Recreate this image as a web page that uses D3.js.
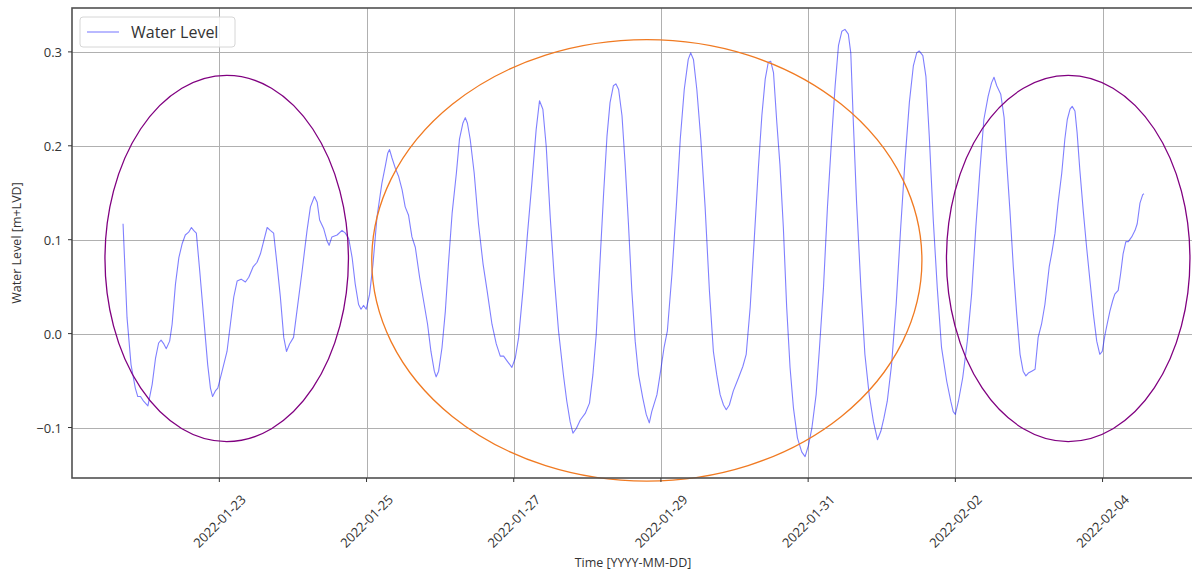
<!DOCTYPE html>
<html>
<head>
<meta charset="utf-8">
<script src="https://cdn.jsdelivr.net/npm/d3@7/dist/d3.min.js"></script>
<style>
  html, body { margin: 0; padding: 0; background: #fff; }
  svg { display: block; font-family: "Open Sans", "Noto Sans", sans-serif; }
</style>
</head>
<body>
<svg id="chart" width="1192" height="574"></svg>
<script>
// Water level record, hourly offsets counted from the series start.
const seriesStart = Date.UTC(2022, 0, 21, 0, 0);
const hoursSinceStart = [
  16.6, 17.9, 19.2, 20.6, 21.4, 22.3, 23.3, 24.7, 26.1, 27.2, 28.2, 29.0, 29.9, 30.7, 31.8, 32.6,
  33.7, 34.8, 35.9, 36.9, 38.0, 38.9, 39.6, 40.5, 41.6, 42.9, 44.2, 45.1, 45.8, 46.7, 47.5, 48.9,
  50.5, 51.6, 52.7, 53.8, 55.1, 56.5, 57.6, 59.0, 60.3, 61.4, 62.5, 63.6, 64.6, 65.7, 66.8, 67.9,
  69.0, 69.9, 70.9, 72.2, 73.3, 75.0, 76.6, 77.7, 79.0, 79.9, 80.7, 82.0, 83.1, 83.8, 84.7, 86.4,
  88.0, 89.1, 90.2, 91.3, 92.3, 93.4, 94.2, 95.0, 95.9, 97.0, 98.1, 99.4, 101.0, 102.1, 102.9, 103.5,
  104.3, 105.4, 106.5, 107.6, 108.6, 109.7, 110.8, 111.9, 113.3, 114.6, 115.9, 117.0, 118.1, 118.7, 119.5, 120.6,
  121.7, 122.7, 123.9, 125.3, 126.3, 127.4, 128.2, 128.9, 129.8, 131.1, 132.5, 134.0, 135.3, 136.9, 138.3, 139.6,
  140.7, 141.8, 143.4, 144.5, 145.6, 147.0, 148.5, 149.9, 151.3, 152.4, 153.5, 154.6, 155.9, 157.2, 158.6, 160.2,
  161.3, 162.4, 163.3, 164.4, 165.7, 167.3, 168.7, 169.8, 170.9, 172.2, 173.3, 174.4, 175.4, 176.5, 177.3, 178.2,
  179.3, 180.3, 181.4, 182.5, 183.6, 184.7, 186.1, 187.2, 188.2, 189.0, 190.7, 191.7, 193.0, 194.1, 195.6, 197.0,
  198.3, 199.6, 200.9, 201.7, 202.6, 203.7, 205.0, 206.4, 207.8, 209.1, 210.2, 211.3, 212.4, 213.3, 214.3, 215.6,
  217.3, 218.7, 219.8, 221.1, 222.4, 223.8, 224.9, 226.0, 227.0, 227.8, 228.7, 229.8, 230.8, 231.9, 233.0, 234.1,
  235.2, 236.5, 237.9, 239.0, 240.1, 241.2, 242.6, 243.7, 245.0, 246.3, 247.7, 248.8, 249.9, 251.0, 252.0, 253.1,
  253.9, 254.7, 255.8, 257.2, 258.5, 259.9, 261.3, 262.6, 263.7, 264.7, 265.8, 267.2, 268.7, 270.2, 271.6, 273.0,
  274.3, 275.4, 276.2, 277.4, 278.4, 279.5, 280.8, 282.1, 283.5, 285.2, 286.5, 287.3, 288.0, 289.0, 290.4, 291.9,
  293.3, 294.7, 296.0, 297.3, 298.7, 299.8, 300.6, 301.5, 302.8, 303.9, 304.7, 305.8, 306.9, 308.0, 309.1, 310.1,
  311.0, 311.8, 312.9, 314.0, 315.0, 316.1, 317.2, 318.6, 319.4, 320.5, 321.5, 322.7, 323.7, 324.5, 325.4, 326.1,
  327.0, 327.7, 328.6, 329.7, 330.8, 331.9, 333.0, 334.1, 335.1, 335.9, 336.8, 337.5, 338.4, 339.3, 340.0, 341.1,
  341.9, 342.7, 343.6, 344.4, 345.5, 346.6, 347.3, 348.2, 349.1, 349.5
];
const waterLevel = [
  0.117, 0.017, -0.033, -0.058, -0.067, -0.067, -0.072, -0.077, -0.054, -0.026, -0.010, -0.007, -0.011, -0.016, -0.008, 0.010,
  0.053, 0.081, 0.096, 0.105, 0.108, 0.113, 0.110, 0.107, 0.067, 0.017, -0.033, -0.058, -0.067, -0.061, -0.058, -0.040,
  -0.019, 0.010, 0.039, 0.056, 0.058, 0.055, 0.060, 0.071, 0.076, 0.085, 0.099, 0.113, 0.110, 0.107, 0.074, 0.039,
  -0.004, -0.019, -0.011, -0.004, 0.024, 0.067, 0.110, 0.135, 0.146, 0.140, 0.121, 0.112, 0.099, 0.094, 0.103, 0.105,
  0.110, 0.107, 0.101, 0.081, 0.053, 0.031, 0.026, 0.030, 0.026, 0.042, 0.074, 0.124, 0.160, 0.178, 0.192, 0.196,
  0.187, 0.176, 0.167, 0.153, 0.135, 0.126, 0.103, 0.092, 0.060, 0.035, 0.010, -0.019, -0.040, -0.046, -0.040, -0.015,
  0.024, 0.074, 0.128, 0.171, 0.207, 0.224, 0.230, 0.224, 0.207, 0.171, 0.117, 0.074, 0.046, 0.010, -0.011, -0.024,
  -0.024, -0.029, -0.036, -0.026, -0.004, 0.046, 0.107, 0.160, 0.217, 0.248, 0.239, 0.199, 0.124, 0.060, 0.003, -0.044,
  -0.072, -0.094, -0.106, -0.101, -0.092, -0.085, -0.074, -0.044, -0.001, 0.081, 0.149, 0.210, 0.246, 0.264, 0.266, 0.260,
  0.232, 0.182, 0.117, 0.046, -0.008, -0.044, -0.069, -0.086, -0.095, -0.083, -0.065, -0.044, -0.015, 0.003, 0.064, 0.135,
  0.207, 0.260, 0.292, 0.299, 0.292, 0.260, 0.207, 0.135, 0.046, -0.019, -0.044, -0.065, -0.076, -0.081, -0.076, -0.061,
  -0.047, -0.035, -0.022, 0.028, 0.099, 0.178, 0.232, 0.271, 0.289, 0.290, 0.278, 0.224, 0.180, 0.114, 0.028, -0.036,
  -0.079, -0.111, -0.126, -0.131, -0.119, -0.101, -0.065, -0.015, 0.049, 0.135, 0.210, 0.264, 0.307, 0.322, 0.324, 0.319,
  0.299, 0.228, 0.139, 0.049, -0.022, -0.065, -0.094, -0.113, -0.104, -0.090, -0.072, -0.033, 0.031, 0.114, 0.185, 0.246,
  0.285, 0.299, 0.301, 0.296, 0.274, 0.210, 0.121, 0.049, -0.015, -0.051, -0.072, -0.083, -0.086, -0.072, -0.047, -0.008,
  0.042, 0.114, 0.174, 0.228, 0.253, 0.267, 0.273, 0.264, 0.255, 0.230, 0.185, 0.131, 0.071, 0.021, -0.022, -0.040,
  -0.045, -0.042, -0.040, -0.038, -0.004, 0.010, 0.031, 0.071, 0.085, 0.107, 0.139, 0.171, 0.207, 0.228, 0.239, 0.242,
  0.237, 0.214, 0.174, 0.131, 0.092, 0.056, 0.021, -0.008, -0.022, -0.019, -0.001, 0.010, 0.024, 0.035, 0.042, 0.046,
  0.064, 0.085, 0.098, 0.098, 0.103, 0.110, 0.117, 0.139, 0.148, 0.149
];

// Axis ticks
const xTickDates = ["2022-01-23", "2022-01-25", "2022-01-27", "2022-01-29", "2022-01-31", "2022-02-02", "2022-02-04"];
const yTickValues = [-0.1, 0.0, 0.1, 0.2, 0.3];

// Highlighted periods: centre (hours from start, level), full width in hours, full height in metres
const highlightCentreHours = [50.4, 187.4, 324.8];
const highlightCentreLevel = [0.08, 0.078, 0.08];
const highlightWidthHours = [79.4, 179.4, 79.4];
const highlightHeight = [0.39, 0.47, 0.39];
const highlightColors = ["#800080", "#f07a22", "#800080"];

const seriesName = "Water Level";
const xLabel = "Time [YYYY-MM-DD]";
const yLabel = "Water Level [m+LVD]";

// ---- layout ----
const svg = d3.select("#chart");
const margin = { left: 72, top: 8 };
const plotW = 1123, plotH = 470;

const data = hoursSinceStart.map((h, i) => ({ t: new Date(seriesStart + h * 3600e3), v: waterLevel[i] }));

// matplotlib-style 5% data margins
const tExt = d3.extent(data, d => +d.t);
const tPad = (tExt[1] - tExt[0]) * 0.05;
const vExt = d3.extent(data, d => d.v);
const vPad = (vExt[1] - vExt[0]) * 0.05;

const x = d3.scaleUtc()
  .domain([new Date(tExt[0] - tPad), new Date(tExt[1] + tPad)])
  .range([margin.left, margin.left + plotW]);
const y = d3.scaleLinear()
  .domain([vExt[0] - vPad, vExt[1] + vPad])
  .range([margin.top + plotH, margin.top]);

const parseDay = d3.utcParse("%Y-%m-%d");
const xTicks = xTickDates.map(parseDay);
const fmtY = v => d3.format(".1f")(v).replace("-", "\u2212");

// grid
const grid = svg.append("g").attr("stroke", "#b0b0b0").attr("stroke-width", 1);
grid.selectAll("line.gx").data(xTicks).join("line")
  .attr("x1", d => Math.round(x(d)) + 0.5).attr("x2", d => Math.round(x(d)) + 0.5)
  .attr("y1", margin.top).attr("y2", margin.top + plotH);
grid.selectAll("line.gy").data(yTickValues).join("line")
  .attr("y1", d => Math.round(y(d)) + 0.5).attr("y2", d => Math.round(y(d)) + 0.5)
  .attr("x1", margin.left).attr("x2", margin.left + plotW);

// series line
const line = d3.line().x(d => x(d.t)).y(d => y(d.v));
svg.append("path")
  .datum(data)
  .attr("d", line)
  .attr("fill", "none")
  .attr("stroke", "blue")
  .attr("stroke-opacity", 0.5)
  .attr("stroke-width", 1.1)
  .attr("stroke-linejoin", "round");

// highlight ellipses
const toTime = h => new Date(seriesStart + h * 3600e3);
svg.append("g").selectAll("ellipse")
  .data(highlightCentreHours.map((h, i) => i))
  .join("ellipse")
  .attr("cx", i => x(toTime(highlightCentreHours[i])))
  .attr("cy", i => y(highlightCentreLevel[i]))
  .attr("rx", i => x(toTime(highlightCentreHours[i] + highlightWidthHours[i] / 2)) - x(toTime(highlightCentreHours[i])))
  .attr("ry", i => y(highlightCentreLevel[i] - highlightHeight[i] / 2) - y(highlightCentreLevel[i]))
  .attr("fill", "none")
  .attr("stroke", i => highlightColors[i])
  .attr("stroke-width", 1.3);

// spines
const spine = svg.append("g").attr("stroke", "#505050").attr("stroke-width", 1.6).attr("fill", "none");
spine.append("rect")
  .attr("x", margin.left).attr("y", margin.top)
  .attr("width", plotW).attr("height", plotH);

// x axis ticks and labels
const xAxis = svg.append("g");
xAxis.selectAll("line").data(xTicks).join("line")
  .attr("x1", d => x(d)).attr("x2", d => x(d))
  .attr("y1", margin.top + plotH).attr("y2", margin.top + plotH + 4)
  .attr("stroke", "#333").attr("stroke-width", 1);
xAxis.selectAll("text").data(xTicks).join("text")
  .attr("transform", d => `translate(${x(d)},${margin.top + plotH + 43}) rotate(-45)`)
  .attr("text-anchor", "middle")
  .attr("dominant-baseline", "central")
  .attr("font-size", 13)
  .attr("fill", "#333")
  .text(d => d3.utcFormat("%Y-%m-%d")(d));

// y axis ticks and labels
const yAxis = svg.append("g");
yAxis.selectAll("line").data(yTickValues).join("line")
  .attr("x1", margin.left - 4).attr("x2", margin.left)
  .attr("y1", d => y(d)).attr("y2", d => y(d))
  .attr("stroke", "#333").attr("stroke-width", 1);
yAxis.selectAll("text").data(yTickValues).join("text")
  .attr("x", margin.left - 10)
  .attr("y", d => y(d))
  .attr("text-anchor", "end")
  .attr("dominant-baseline", "central")
  .attr("font-size", 13)
  .attr("fill", "#333")
  .text(fmtY);

// axis labels
svg.append("text")
  .attr("x", 633).attr("y", 567)
  .attr("text-anchor", "middle")
  .attr("font-size", 12.5)
  .attr("fill", "#333")
  .text(xLabel);
svg.append("text")
  .attr("transform", `translate(21,${margin.top + plotH / 2}) rotate(-90)`)
  .attr("text-anchor", "middle")
  .attr("font-size", 12.5)
  .attr("fill", "#333")
  .text(yLabel);

// legend
const legend = svg.append("g").attr("transform", "translate(80,17)");
legend.append("rect")
  .attr("width", 155).attr("height", 30).attr("rx", 3)
  .attr("fill", "#fff").attr("fill-opacity", 0.8)
  .attr("stroke", "#d6d6d6").attr("stroke-width", 1);
legend.append("line")
  .attr("x1", 7).attr("x2", 39).attr("y1", 15).attr("y2", 15)
  .attr("stroke", "blue").attr("stroke-opacity", 0.5).attr("stroke-width", 1.1);
legend.append("text")
  .attr("x", 51).attr("y", 15)
  .attr("dominant-baseline", "central")
  .attr("font-size", 16)
  .attr("fill", "#333")
  .text(seriesName);
</script>
</body>
</html>
